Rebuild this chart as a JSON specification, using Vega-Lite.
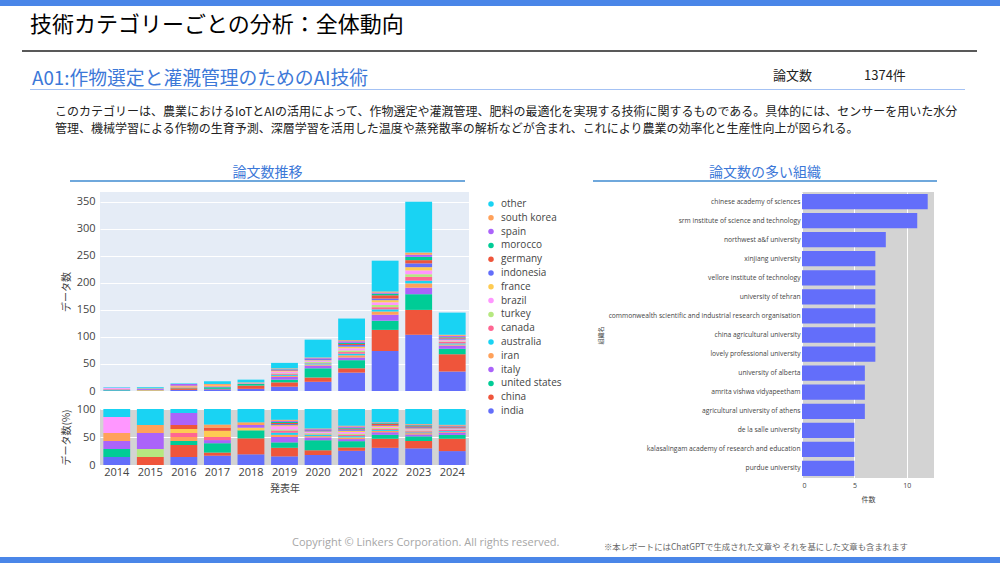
{
  "$schema": "https://vega.github.io/schema/vega-lite/v6.json",
  "padding": 0,
  "background": "#ffffff",
  "spacing": 0,
  "bounds": "flush",
  "config": {
    "view": {"stroke": null},
    "font": "Noto Sans CJK JP",
    "title": {"fontWeight": "normal", "font": "Noto Sans CJK JP"}
  },
  "datasets": {
    "countries": [
      {"year": "2014", "country": "india", "count": 1},
      {"year": "2014", "country": "united states", "count": 1},
      {"year": "2014", "country": "italy", "count": 1},
      {"year": "2014", "country": "iran", "count": 1},
      {"year": "2014", "country": "brazil", "count": 2},
      {"year": "2014", "country": "other", "count": 1},
      {"year": "2015", "country": "china", "count": 1},
      {"year": "2015", "country": "turkey", "count": 1},
      {"year": "2015", "country": "spain", "count": 2},
      {"year": "2015", "country": "south korea", "count": 1},
      {"year": "2015", "country": "other", "count": 2},
      {"year": "2016", "country": "india", "count": 2},
      {"year": "2016", "country": "china", "count": 3},
      {"year": "2016", "country": "united states", "count": 1},
      {"year": "2016", "country": "iran", "count": 1},
      {"year": "2016", "country": "canada", "count": 1},
      {"year": "2016", "country": "france", "count": 1},
      {"year": "2016", "country": "germany", "count": 1},
      {"year": "2016", "country": "spain", "count": 3},
      {"year": "2016", "country": "other", "count": 1},
      {"year": "2017", "country": "india", "count": 3},
      {"year": "2017", "country": "china", "count": 1},
      {"year": "2017", "country": "united states", "count": 3},
      {"year": "2017", "country": "italy", "count": 1},
      {"year": "2017", "country": "canada", "count": 1},
      {"year": "2017", "country": "france", "count": 2},
      {"year": "2017", "country": "germany", "count": 1},
      {"year": "2017", "country": "south korea", "count": 1},
      {"year": "2017", "country": "other", "count": 5},
      {"year": "2018", "country": "india", "count": 4},
      {"year": "2018", "country": "china", "count": 6},
      {"year": "2018", "country": "united states", "count": 3},
      {"year": "2018", "country": "france", "count": 1},
      {"year": "2018", "country": "spain", "count": 1},
      {"year": "2018", "country": "south korea", "count": 1},
      {"year": "2018", "country": "other", "count": 5},
      {"year": "2019", "country": "india", "count": 8},
      {"year": "2019", "country": "china", "count": 8},
      {"year": "2019", "country": "united states", "count": 5},
      {"year": "2019", "country": "italy", "count": 5},
      {"year": "2019", "country": "iran", "count": 2},
      {"year": "2019", "country": "australia", "count": 2},
      {"year": "2019", "country": "canada", "count": 2},
      {"year": "2019", "country": "turkey", "count": 1},
      {"year": "2019", "country": "brazil", "count": 3},
      {"year": "2019", "country": "france", "count": 1},
      {"year": "2019", "country": "indonesia", "count": 1},
      {"year": "2019", "country": "germany", "count": 1},
      {"year": "2019", "country": "morocco", "count": 1},
      {"year": "2019", "country": "spain", "count": 1},
      {"year": "2019", "country": "south korea", "count": 1},
      {"year": "2019", "country": "other", "count": 10},
      {"year": "2020", "country": "india", "count": 17},
      {"year": "2020", "country": "china", "count": 8},
      {"year": "2020", "country": "united states", "count": 17},
      {"year": "2020", "country": "italy", "count": 5},
      {"year": "2020", "country": "iran", "count": 2},
      {"year": "2020", "country": "australia", "count": 2},
      {"year": "2020", "country": "canada", "count": 1},
      {"year": "2020", "country": "turkey", "count": 2},
      {"year": "2020", "country": "brazil", "count": 2},
      {"year": "2020", "country": "france", "count": 1},
      {"year": "2020", "country": "indonesia", "count": 2},
      {"year": "2020", "country": "germany", "count": 1},
      {"year": "2020", "country": "spain", "count": 1},
      {"year": "2020", "country": "south korea", "count": 1},
      {"year": "2020", "country": "other", "count": 33},
      {"year": "2021", "country": "india", "count": 34},
      {"year": "2021", "country": "china", "count": 8},
      {"year": "2021", "country": "united states", "count": 15},
      {"year": "2021", "country": "italy", "count": 5},
      {"year": "2021", "country": "iran", "count": 4},
      {"year": "2021", "country": "australia", "count": 3},
      {"year": "2021", "country": "canada", "count": 3},
      {"year": "2021", "country": "turkey", "count": 3},
      {"year": "2021", "country": "brazil", "count": 4},
      {"year": "2021", "country": "france", "count": 3},
      {"year": "2021", "country": "indonesia", "count": 3},
      {"year": "2021", "country": "germany", "count": 2},
      {"year": "2021", "country": "morocco", "count": 2},
      {"year": "2021", "country": "spain", "count": 3},
      {"year": "2021", "country": "south korea", "count": 2},
      {"year": "2021", "country": "other", "count": 40},
      {"year": "2022", "country": "india", "count": 74},
      {"year": "2022", "country": "china", "count": 39},
      {"year": "2022", "country": "united states", "count": 17},
      {"year": "2022", "country": "italy", "count": 11},
      {"year": "2022", "country": "iran", "count": 6},
      {"year": "2022", "country": "australia", "count": 4},
      {"year": "2022", "country": "canada", "count": 4},
      {"year": "2022", "country": "turkey", "count": 4},
      {"year": "2022", "country": "brazil", "count": 5},
      {"year": "2022", "country": "france", "count": 4},
      {"year": "2022", "country": "indonesia", "count": 3},
      {"year": "2022", "country": "germany", "count": 6},
      {"year": "2022", "country": "morocco", "count": 3},
      {"year": "2022", "country": "spain", "count": 2},
      {"year": "2022", "country": "south korea", "count": 2},
      {"year": "2022", "country": "other", "count": 57},
      {"year": "2023", "country": "india", "count": 104},
      {"year": "2023", "country": "china", "count": 46},
      {"year": "2023", "country": "united states", "count": 29},
      {"year": "2023", "country": "italy", "count": 12},
      {"year": "2023", "country": "iran", "count": 8},
      {"year": "2023", "country": "australia", "count": 5},
      {"year": "2023", "country": "canada", "count": 7},
      {"year": "2023", "country": "turkey", "count": 5},
      {"year": "2023", "country": "brazil", "count": 7},
      {"year": "2023", "country": "france", "count": 6},
      {"year": "2023", "country": "indonesia", "count": 7},
      {"year": "2023", "country": "germany", "count": 6},
      {"year": "2023", "country": "morocco", "count": 6},
      {"year": "2023", "country": "spain", "count": 4},
      {"year": "2023", "country": "south korea", "count": 4},
      {"year": "2023", "country": "other", "count": 94},
      {"year": "2024", "country": "india", "count": 36},
      {"year": "2024", "country": "china", "count": 32},
      {"year": "2024", "country": "united states", "count": 10},
      {"year": "2024", "country": "italy", "count": 6},
      {"year": "2024", "country": "iran", "count": 2},
      {"year": "2024", "country": "australia", "count": 2},
      {"year": "2024", "country": "canada", "count": 3},
      {"year": "2024", "country": "turkey", "count": 1},
      {"year": "2024", "country": "brazil", "count": 2},
      {"year": "2024", "country": "france", "count": 1},
      {"year": "2024", "country": "indonesia", "count": 2},
      {"year": "2024", "country": "germany", "count": 2},
      {"year": "2024", "country": "morocco", "count": 1},
      {"year": "2024", "country": "spain", "count": 2},
      {"year": "2024", "country": "south korea", "count": 2},
      {"year": "2024", "country": "other", "count": 41}
    ],
    "stackorder": [
      {"country": "india", "rank": 0},
      {"country": "china", "rank": 1},
      {"country": "united states", "rank": 2},
      {"country": "italy", "rank": 3},
      {"country": "iran", "rank": 4},
      {"country": "australia", "rank": 5},
      {"country": "canada", "rank": 6},
      {"country": "turkey", "rank": 7},
      {"country": "brazil", "rank": 8},
      {"country": "france", "rank": 9},
      {"country": "indonesia", "rank": 10},
      {"country": "germany", "rank": 11},
      {"country": "morocco", "rank": 12},
      {"country": "spain", "rank": 13},
      {"country": "south korea", "rank": 14},
      {"country": "other", "rank": 15}
    ],
    "orgs": [
      {"org": "chinese academy of sciences", "n": 12},
      {"org": "srm institute of science and technology", "n": 11},
      {"org": "northwest a&f university", "n": 8},
      {"org": "xinjiang university", "n": 7},
      {"org": "vellore institute of technology", "n": 7},
      {"org": "university of tehran", "n": 7},
      {"org": "commonwealth scientific and industrial research organisation", "n": 7},
      {"org": "china agricultural university", "n": 7},
      {"org": "lovely professional university", "n": 7},
      {"org": "university of alberta", "n": 6},
      {"org": "amrita vishwa vidyapeetham", "n": 6},
      {"org": "agricultural university of athens", "n": 6},
      {"org": "de la salle university", "n": 5},
      {"org": "kalasalingam academy of research and education", "n": 5},
      {"org": "purdue university", "n": 5}
    ]
  },
  "vconcat": [
    {"data": {"values": []}, "mark": "point", "width": 1000, "height": 6, "view": {"fill": "#4a86e8"}},
    {"data": {"values": []}, "mark": "point", "width": 1, "height": 44},
    {
      "hconcat": [
        {"data": {"values": []}, "mark": "point", "width": 22, "height": 2},
        {"data": {"values": []}, "mark": "point", "width": 955, "height": 2, "view": {"fill": "#595959"},
         "title": {"text": "技術カテゴリーごとの分析：全体動向", "anchor": "start", "frame": "group", "dx": 8, "fontSize": 22, "color": "#000000", "offset": 13}}
      ],
      "spacing": 0, "bounds": "flush"
    },
    {"data": {"values": []}, "mark": "point", "width": 1, "height": 39},
    {
      "hconcat": [
        {"data": {"values": []}, "mark": "point", "width": 30, "height": 1},
        {"data": {"values": []}, "mark": "point", "width": 740, "height": 1, "view": {"fill": "#a4c2f4"},
         "title": {"text": "A01:作物選定と灌漑管理のためのAI技術", "anchor": "start", "frame": "group", "dx": 2, "fontSize": 18.8, "color": "#3c78d8", "offset": 0}},
        {"data": {"values": []}, "mark": "point", "width": 195, "height": 1, "view": {"fill": "#a4c2f4"},
         "title": {"text": "論文数　　　　1374件", "anchor": "start", "frame": "group", "dx": 3, "fontSize": 13, "color": "#222222", "offset": 6}}
      ],
      "spacing": 0, "bounds": "flush"
    },
    {"data": {"values": []}, "mark": "point", "width": 1, "height": 51},
    {
      "hconcat": [
        {"data": {"values": []}, "mark": "point", "width": 55, "height": 1},
        {"data": {"values": []}, "mark": "point", "width": 905, "height": 1,
         "title": {"text": ["このカテゴリーは、農業におけるIoTとAIの活用によって、作物選定や灌漑管理、肥料の最適化を実現する技術に関するものである。具体的には、センサーを用いた水分", "管理、機械学習による作物の生育予測、深層学習を活用した温度や蒸発散率の解析などが含まれ、これにより農業の効率化と生産性向上が図られる。"], "anchor": "start", "frame": "group", "fontSize": 12, "lineHeight": 17, "color": "#222222", "offset": 4}}
      ],
      "spacing": 0, "bounds": "flush"
    },
    {"data": {"values": []}, "mark": "point", "width": 1, "height": 40},
    {
      "hconcat": [
        {"data": {"values": []}, "mark": "point", "width": 70, "height": 2},
        {"data": {"values": []}, "mark": "point", "width": 395, "height": 2, "view": {"fill": "#6fa8dc"},
         "title": {"text": "論文数推移", "anchor": "middle", "frame": "group", "fontSize": 14, "color": "#3c78d8", "offset": 0}},
        {"data": {"values": []}, "mark": "point", "width": 128, "height": 2},
        {"data": {"values": []}, "mark": "point", "width": 344, "height": 2, "view": {"fill": "#6fa8dc"},
         "title": {"text": "論文数の多い組織", "anchor": "middle", "frame": "group", "fontSize": 14, "color": "#3c78d8", "offset": 0}}
      ],
      "spacing": 0, "bounds": "flush"
    },
    {"data": {"values": []}, "mark": "point", "width": 1, "height": 12},
    {
      "hconcat": [
        {"data": {"values": []}, "mark": "point", "width": 100, "height": 1},
        {
          "vconcat": [
            {
              "width": 369, "height": 199,
              "data": {"name": "countries"},
              "transform": [{"lookup": "country", "from": {"data": {"name": "stackorder"}, "key": "country", "fields": ["rank"]}}],
              "mark": {"type": "bar"},
              "view": {"fill": "#e5ecf6"},
              "encoding": {
                "x": {"field": "year", "type": "ordinal", "axis": null, "scale": {"paddingInner": 0.2, "paddingOuter": 0.1}},
                "y": {"field": "count", "type": "quantitative", "stack": "zero",
                      "scale": {"domain": [0, 368], "nice": false, "zero": true},
                      "axis": {"values": [0, 50, 100, 150, 200, 250, 300, 350], "title": "データ数", "grid": true, "gridColor": "#ffffff", "domain": false, "ticks": false,
                               "labelFont": "Open Sans", "labelFontSize": 11, "labelColor": "#444444", "labelPadding": 5,
                               "titleFontSize": 10, "titleFontWeight": "normal", "titleColor": "#444444", "titlePadding": 5}},
                "order": {"field": "rank", "type": "quantitative", "sort": "ascending"},
                "color": {"field": "country", "type": "nominal",
                          "scale": {"domain": ["other", "south korea", "spain", "morocco", "germany", "indonesia", "france", "brazil", "turkey", "canada", "australia", "iran", "italy", "united states", "china", "india"],
                                    "range": ["#19D3F3", "#FFA15A", "#AB63FA", "#00CC96", "#EF553B", "#636EFA", "#FECB52", "#FF97FF", "#B6E880", "#FF6692", "#19D3F3", "#FFA15A", "#AB63FA", "#00CC96", "#EF553B", "#636EFA"]},
                          "legend": {"title": null, "orient": "right", "offset": 10, "padding": 7, "symbolType": "circle", "symbolSize": 30, "symbolStrokeWidth": 0,
                                     "labelFont": "Open Sans", "labelFontSize": 10, "labelColor": "#444444", "labelOffset": 5, "rowPadding": 3.8}}
              }
            },
            {
              "width": 369, "height": 56,
              "data": {"name": "countries"},
              "transform": [{"lookup": "country", "from": {"data": {"name": "stackorder"}, "key": "country", "fields": ["rank"]}}],
              "mark": {"type": "bar"},
              "view": {"fill": "#d3d3d3"},
              "encoding": {
                "x": {"field": "year", "type": "ordinal", "scale": {"paddingInner": 0.2, "paddingOuter": 0.1},
                      "axis": {"title": "発表年", "labelAngle": 0, "ticks": false, "domain": false, "labelFont": "Open Sans", "labelFontSize": 11, "labelColor": "#444444", "labelPadding": 1,
                               "titleFontSize": 10, "titleFontWeight": "normal", "titleColor": "#444444", "titlePadding": 6}},
                "y": {"field": "count", "type": "quantitative", "stack": "normalize",
                      "scale": {"domain": [0, 1], "nice": false},
                      "axis": {"values": [0, 0.5, 1], "labelExpr": "format(datum.value * 100, 'd')", "title": "データ数(%)", "grid": true, "gridColor": "#ffffff", "domain": false, "ticks": false,
                               "labelFont": "Open Sans", "labelFontSize": 11, "labelColor": "#444444", "labelPadding": 5,
                               "titleFontSize": 10, "titleFontWeight": "normal", "titleColor": "#444444", "titlePadding": 5}},
                "order": {"field": "rank", "type": "quantitative", "sort": "ascending"},
                "color": {"field": "country", "type": "nominal",
                          "scale": {"domain": ["other", "south korea", "spain", "morocco", "germany", "indonesia", "france", "brazil", "turkey", "canada", "australia", "iran", "italy", "united states", "china", "india"],
                                    "range": ["#19D3F3", "#FFA15A", "#AB63FA", "#00CC96", "#EF553B", "#636EFA", "#FECB52", "#FF97FF", "#B6E880", "#FF6692", "#19D3F3", "#FFA15A", "#AB63FA", "#00CC96", "#EF553B", "#636EFA"]},
                          "legend": null}
              }
            }
          ],
          "spacing": 18, "bounds": "flush",
          "resolve": {"scale": {"color": "independent", "x": "independent"}, "legend": {"color": "independent"}}
        },
        {"data": {"values": []}, "mark": "point", "width": 702, "height": 1},
        {
          "width": 132, "height": 286,
          "data": {"name": "orgs"},
          "mark": {"type": "bar", "color": "#636EFA"},
          "view": {"fill": "#d3d3d3"},
          "encoding": {
            "y": {"field": "org", "type": "nominal", "sort": null, "scale": {"paddingInner": 0.2, "paddingOuter": 0.1},
                  "axis": {"title": "組織名", "ticks": false, "domain": false, "labelFont": "Open Sans", "labelFontSize": 6.7, "labelColor": "#444444", "labelPadding": 2, "labelLimit": 400,
                           "titleFontSize": 6, "titleFontWeight": "normal", "titleColor": "#444444", "titlePadding": 5}},
            "x": {"field": "n", "type": "quantitative", "scale": {"domain": [0, 12.6], "nice": false},
                  "axis": {"values": [0, 5, 10], "title": "件数", "grid": true, "gridColor": "#ffffff", "ticks": false, "domain": false,
                           "labelFont": "Open Sans", "labelFontSize": 7, "labelColor": "#444444", "labelPadding": 3,
                           "titleFontSize": 7, "titleFontWeight": "normal", "titleColor": "#444444", "titlePadding": 7}}
          }
        }
      ],
      "spacing": 0, "bounds": "flush"
    },
    {"data": {"values": []}, "mark": "point", "width": 1, "height": 365},
    {
      "hconcat": [
        {"data": {"values": []}, "mark": "point", "width": 600, "height": 6, "view": {"fill": "#4a86e8"},
         "title": {"text": "Copyright © Linkers Corporation. All rights reserved.", "anchor": "start", "frame": "group", "dx": 292, "font": "Open Sans", "fontSize": 11, "color": "#a6a6a6", "offset": 9}},
        {"data": {"values": []}, "mark": "point", "width": 400, "height": 6, "view": {"fill": "#4a86e8"},
         "title": {"text": "※本レポートにはChatGPTで生成された文章や それを基にした文章も含まれます", "anchor": "start", "frame": "group", "dx": 4, "fontSize": 8.4, "color": "#666666", "offset": 6}}
      ],
      "spacing": 0, "bounds": "flush"
    }
  ]
}
